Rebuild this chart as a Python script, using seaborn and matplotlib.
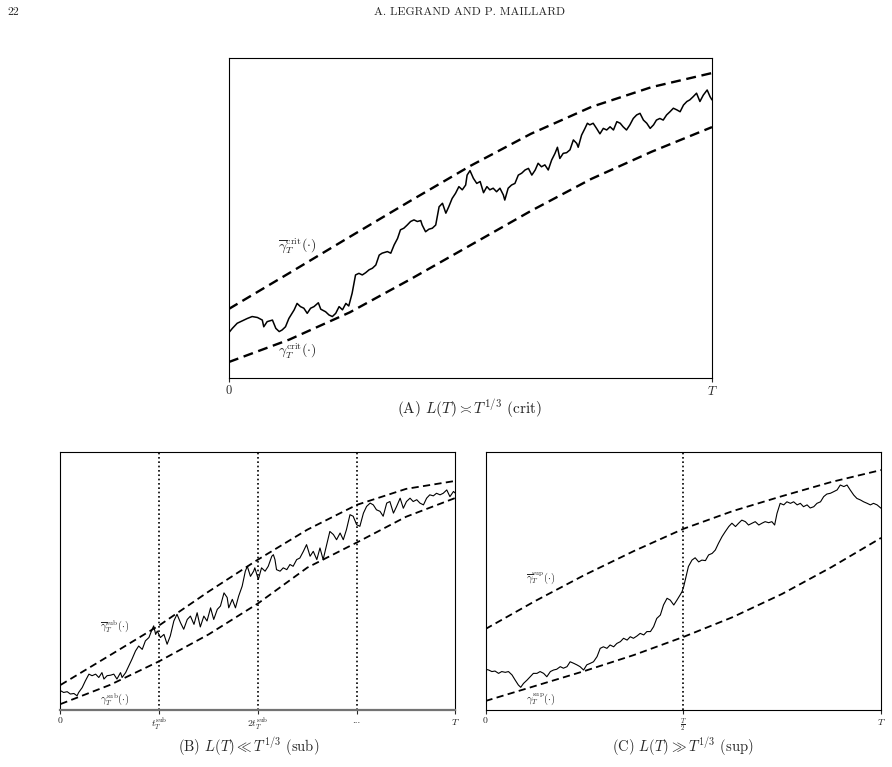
import matplotlib
matplotlib.use("Agg")
import matplotlib.pyplot as plt
import seaborn as sns

# ---- panel A : critical regime ----
crit_grid = [0, 0.125, 0.25, 0.375, 0.5, 0.625, 0.75, 0.875, 1.0]
crit_upper = [0.216, 0.328, 0.441, 0.553, 0.663, 0.763, 0.847, 0.909, 0.953]
crit_lower = [0.050, 0.120, 0.205, 0.308, 0.415, 0.522, 0.622, 0.707, 0.784]
crit_t = [0, .007, .017, .028, .038, .048, .059, .069, .072, .079, .090, .097, .104, .110,
          .117, .124, .135, .141, .148, .155, .162, .169, .176, .185, .190, .200, .207, .214,
          .221, .228, .235, .242, .248, .255, .262, .269, .276, .283, .290, .297, .304, .311,
          .317, .328, .335, .342, .349, .355, .362, .369, .376, .383, .390, .397, .400, .407,
          .414, .421, .428, .435, .442, .449, .455, .462, .469, .476, .483, .490, .493, .499,
          .506, .513, .520, .527, .534, .540, .547, .554, .561, .568, .571, .578, .585, .592,
          .599, .606, .613, .620, .627, .634, .640, .647, .654, .661, .668, .675, .680, .685,
          .692, .699, .706, .713, .720, .723, .730, .737, .742, .747, .754, .761, .768, .775,
          .782, .789, .796, .803, .810, .816, .823, .830, .837, .844, .851, .858, .865, .872,
          .879, .885, .892, .899, .906, .913, .920, .927, .934, .941, .948, .954, .961, .968,
          .975, .982, .990, .996, 1.0]
crit_y = [0.142, 0.155, 0.171, 0.179, 0.186, 0.192, 0.189, 0.181, 0.160, 0.176, 0.181, 0.155,
          0.145, 0.150, 0.160, 0.186, 0.213, 0.233, 0.223, 0.218, 0.202, 0.218, 0.223, 0.235,
          0.215, 0.207, 0.197, 0.192, 0.202, 0.223, 0.213, 0.233, 0.225, 0.265, 0.322, 0.327,
          0.322, 0.329, 0.338, 0.343, 0.353, 0.384, 0.390, 0.395, 0.390, 0.416, 0.436, 0.463,
          0.468, 0.478, 0.489, 0.494, 0.489, 0.492, 0.478, 0.457, 0.465, 0.468, 0.478, 0.535,
          0.546, 0.515, 0.535, 0.561, 0.577, 0.598, 0.588, 0.603, 0.634, 0.648,
          0.624, 0.608, 0.614, 0.579, 0.598, 0.588, 0.593, 0.582, 0.593, 0.572, 0.556, 0.593,
          0.603, 0.608, 0.634, 0.640, 0.650, 0.655, 0.634, 0.650, 0.671, 0.660, 0.666, 0.650,
          0.681, 0.702, 0.721, 0.686, 0.702, 0.704, 0.713, 0.744, 0.733, 0.721, 0.759, 0.780,
          0.796, 0.791, 0.796, 0.780, 0.763, 0.780, 0.775, 0.785, 0.775, 0.801, 0.796, 0.785,
          0.775, 0.791, 0.811, 0.822, 0.827, 0.806, 0.796, 0.780, 0.791, 0.806, 0.811, 0.806,
          0.822, 0.832, 0.843, 0.838, 0.832, 0.853, 0.864, 0.869, 0.879, 0.890, 0.864, 0.884,
          0.900, 0.879, 0.869]

# ---- panel B : sub-critical regime ----
sub_grid = [0, 0.125, 0.25, 0.375, 0.5, 0.625, 0.75, 0.875, 1.0]
sub_upper = [0.097, 0.212, 0.328, 0.459, 0.583, 0.699, 0.795, 0.857, 0.888]
sub_lower = [0.023, 0.097, 0.189, 0.293, 0.413, 0.552, 0.649, 0.749, 0.822]
sub_ticks = [0, 0.25, 0.5, 0.75, 1.0]
sub_ticklabels = ["0", r"$t_T^{\mathrm{sub}}$", r"$2t_T^{\mathrm{sub}}$", "...", r"$T$"]
sub_t = [0, .008, .017, .025, .034, .042, .046, .055, .063, .072, .080, .089, .097, .105,
         .110, .118, .127, .135, .143, .152, .156, .165, .173, .181, .190, .198, .207, .215,
         .224, .232, .236, .241, .245, .253, .262, .270, .278, .287, .295, .304, .312, .321,
         .329, .338, .346, .354, .363, .371, .380, .388, .397, .405, .414, .422, .426, .435,
         .443, .451, .460, .468, .473, .481, .489,
         .492, .501, .509, .518, .526, .535, .539, .543, .547, .556, .564, .573, .581, .589,
         .598, .606, .615, .623, .632, .640, .649, .657, .665, .674, .682, .691, .699, .708,
         .716, .724, .733, .741, .750, .758, .767, .775, .784, .792, .800, .809, .817, .826,
         .834, .843, .851, .860, .868, .876, .885, .893, .902, .910, .919, .927, .935, .944,
         .952, .961, .969, .978, .986, .995, 1.0]
sub_y = [0.075, 0.068, 0.071, 0.062, 0.064, 0.055, 0.068, 0.087, 0.113, 0.139, 0.133, 0.139,
         0.126, 0.145, 0.120, 0.133, 0.135, 0.139, 0.120, 0.145, 0.126, 0.145, 0.171, 0.197,
         0.229, 0.248, 0.235, 0.268, 0.281, 0.313, 0.326, 0.293, 0.306, 0.281, 0.293, 0.255,
         0.287, 0.345, 0.371, 0.338, 0.313, 0.351, 0.364, 0.332, 0.377, 0.322, 0.364, 0.345,
         0.396, 0.351, 0.390, 0.403, 0.454, 0.436, 0.396, 0.429, 0.396, 0.441, 0.480, 0.538,
         0.557, 0.518, 0.538,
         0.551, 0.506, 0.551, 0.538, 0.557, 0.596, 0.602, 0.583, 0.544, 0.538, 0.551, 0.544,
         0.564, 0.557, 0.583, 0.589, 0.615, 0.641, 0.596, 0.615, 0.583, 0.628, 0.583, 0.641,
         0.692, 0.680, 0.660, 0.686, 0.660, 0.699, 0.757, 0.751, 0.718, 0.712, 0.763, 0.789,
         0.802, 0.795, 0.776, 0.770, 0.751, 0.802, 0.808, 0.763, 0.789, 0.821, 0.782, 0.808,
         0.821, 0.808, 0.815, 0.802, 0.795, 0.821, 0.834, 0.830, 0.840, 0.834, 0.840, 0.853,
         0.827, 0.847, 0.840]

# ---- panel C : super-critical regime ----
sup_grid = [0, 0.125, 0.25, 0.375, 0.5, 0.625, 0.75, 0.875, 1.0]
sup_upper = [0.314, 0.422, 0.523, 0.616, 0.702, 0.771, 0.829, 0.884, 0.930]
sup_lower = [0.035, 0.093, 0.151, 0.213, 0.283, 0.360, 0.450, 0.554, 0.667]
sup_ticks = [0, 0.5, 1.0]
sup_ticklabels = ["0", r"$\frac{T}{2}$", r"$T$"]
sup_t = [0, .008, .016, .024, .033, .041, .050, .058, .067, .075, .083, .089, .096, .105,
         .113, .121, .130, .138, .147, .155, .164, .172, .180, .189, .197, .206, .214, .223,
         .231, .239, .248, .256, .265, .273, .282, .290, .298, .307, .315, .324, .332, .341,
         .349, .358, .366, .374, .383, .391, .400, .408, .417, .425, .433, .442, .450, .459,
         .467, .476, .484, .492, .497, .501, .507, .513, .522, .530, .539, .547, .556, .564,
         .573, .581, .589, .598, .606, .615, .623, .632, .640, .648, .657, .665, .674, .682,
         .691, .699, .707, .716, .724, .731, .737, .745, .754, .762, .771, .779, .788, .796,
         .804, .813, .821, .830, .838, .847, .855, .863, .872, .880, .889, .897, .906, .914,
         .922, .931, .939, .948, .956, .965, .973, .981, .990, 1.0]
sup_y = [0.158, 0.155, 0.149, 0.151, 0.142, 0.149, 0.146, 0.149, 0.136, 0.116, 0.097, 0.088,
         0.103, 0.116, 0.129, 0.142, 0.142, 0.149, 0.142, 0.129, 0.149, 0.155, 0.158, 0.168,
         0.162, 0.168, 0.187, 0.181, 0.175, 0.168, 0.155, 0.175, 0.181, 0.187, 0.207, 0.239,
         0.245, 0.239, 0.252, 0.245, 0.258, 0.265, 0.278, 0.271, 0.284, 0.278, 0.287, 0.297,
         0.291, 0.304, 0.304, 0.323, 0.355, 0.368, 0.407, 0.433, 0.426, 0.407, 0.426, 0.446,
         0.459, 0.478, 0.517, 0.556, 0.581, 0.590, 0.574, 0.581, 0.579, 0.601, 0.607, 0.620,
         0.646, 0.672, 0.691, 0.711, 0.724, 0.711, 0.724, 0.736, 0.730, 0.717, 0.724, 0.730,
         0.717, 0.724, 0.730, 0.726, 0.730, 0.717, 0.762, 0.801, 0.795, 0.807, 0.801, 0.807,
         0.795, 0.801, 0.788, 0.795, 0.783, 0.788, 0.801, 0.807, 0.827, 0.837, 0.840, 0.846,
         0.853, 0.872, 0.866, 0.872, 0.853, 0.833, 0.820, 0.814, 0.807, 0.801, 0.795, 0.801,
         0.795, 0.782]

sns.set_style("white")
plt.rcParams["font.family"] = ["cmr10", "DejaVu Serif"]
plt.rcParams["mathtext.fontset"] = "cm"
plt.rcParams["axes.unicode_minus"] = False
plt.rcParams["axes.formatter.use_mathtext"] = True

fig = plt.figure(figsize=(8.92, 7.67), dpi=100)
ax_a = fig.add_axes([0.2567, 0.5072, 0.5415, 0.4172])
ax_b = fig.add_axes([0.0678, 0.0743, 0.4428, 0.3364])
ax_c = fig.add_axes([0.5443, 0.0743, 0.4434, 0.3364])


def draw_panel(ax, grid, upper, lower, t, y, lw_path, lw_dash, dash):
    sns.lineplot(x=grid, y=upper, ax=ax, color="black", lw=lw_dash, linestyle=(0, dash))
    sns.lineplot(x=grid, y=lower, ax=ax, color="black", lw=lw_dash, linestyle=(0, dash))
    sns.lineplot(x=t, y=y, ax=ax, color="black", lw=lw_path)
    ax.set_xlim(0, 1)
    ax.set_ylim(0, 1)
    ax.set_yticks([])
    ax.set_xlabel("")
    ax.set_ylabel("")
    for sp in ax.spines.values():
        sp.set_visible(True)
        sp.set_color("black")
        sp.set_linewidth(0.8)


draw_panel(ax_a, crit_grid, crit_upper, crit_lower, crit_t, crit_y, 1.1, 1.7, (4.2, 2.4))
ax_a.set_xticks([0, 1])
ax_a.set_xticklabels(["0", r"$T$"], fontsize=9)
ax_a.tick_params(axis="x", length=3, width=0.8, pad=2, bottom=True)
ax_a.text(0.141, 0.4125, r"$\overline{\gamma}_T^{\mathrm{crit}}(\cdot)$", fontsize=10,
          ha="center", va="center")
ax_a.text(0.141, 0.084, r"$\gamma_T^{\mathrm{crit}}(\cdot)$", fontsize=10,
          ha="center", va="center")

draw_panel(ax_b, sub_grid, sub_upper, sub_lower, sub_t, sub_y, 0.8, 1.3, (4.0, 2.4))
for x in sub_ticks[1:-1]:
    ax_b.axvline(x, color="black", lw=1.2, linestyle=(0, (1, 1.6)))
ax_b.set_xticks(sub_ticks)
ax_b.set_xticklabels(sub_ticklabels, fontsize=7)
ax_b.tick_params(axis="x", length=3, width=0.8, pad=2, bottom=True)
ax_b.spines["bottom"].set_color("0.45")
ax_b.spines["bottom"].set_linewidth(1.6)
ax_b.text(0.138, 0.322, r"$\overline{\gamma}_T^{\mathrm{sub}}(\cdot)$", fontsize=7.5,
          ha="center", va="center")
ax_b.text(0.138, 0.039, r"$\gamma_T^{\mathrm{sub}}(\cdot)$", fontsize=7.5,
          ha="center", va="center")

draw_panel(ax_c, sup_grid, sup_upper, sup_lower, sup_t, sup_y, 0.8, 1.3, (4.0, 2.4))
ax_c.axvline(sup_ticks[1], color="black", lw=1.2, linestyle=(0, (1, 1.6)))
ax_c.set_xticks(sup_ticks)
ax_c.set_xticklabels(sup_ticklabels, fontsize=7)
ax_c.tick_params(axis="x", length=3, width=0.8, pad=2, bottom=True)
ax_c.text(0.140, 0.512, r"$\overline{\gamma}_T^{\mathrm{sup}}(\cdot)$", fontsize=7.5,
          ha="center", va="center")
ax_c.text(0.140, 0.043, r"$\gamma_T^{\mathrm{sup}}(\cdot)$", fontsize=7.5,
          ha="center", va="center")

# captions and page header
fig.text(470 / 892, 1 - 409 / 767, r"(A) $L(T) \asymp T^{1/3}$ (crit)", fontsize=11,
         ha="center", va="center")
fig.text(249 / 892, 1 - 747 / 767, r"(B) $L(T) \ll T^{1/3}$ (sub)", fontsize=10.5,
         ha="center", va="center")
fig.text(683 / 892, 1 - 747 / 767, r"(C) $L(T) \gg T^{1/3}$ (sup)", fontsize=10.5,
         ha="center", va="center")
fig.text(7 / 892, 1 - 12 / 767, "22", fontsize=8.5, ha="left", va="center")
fig.text(470 / 892, 1 - 12 / 767, "A. LEGRAND AND P. MAILLARD", fontsize=8.5,
         ha="center", va="center")

fig.savefig("out.png", dpi=100)
